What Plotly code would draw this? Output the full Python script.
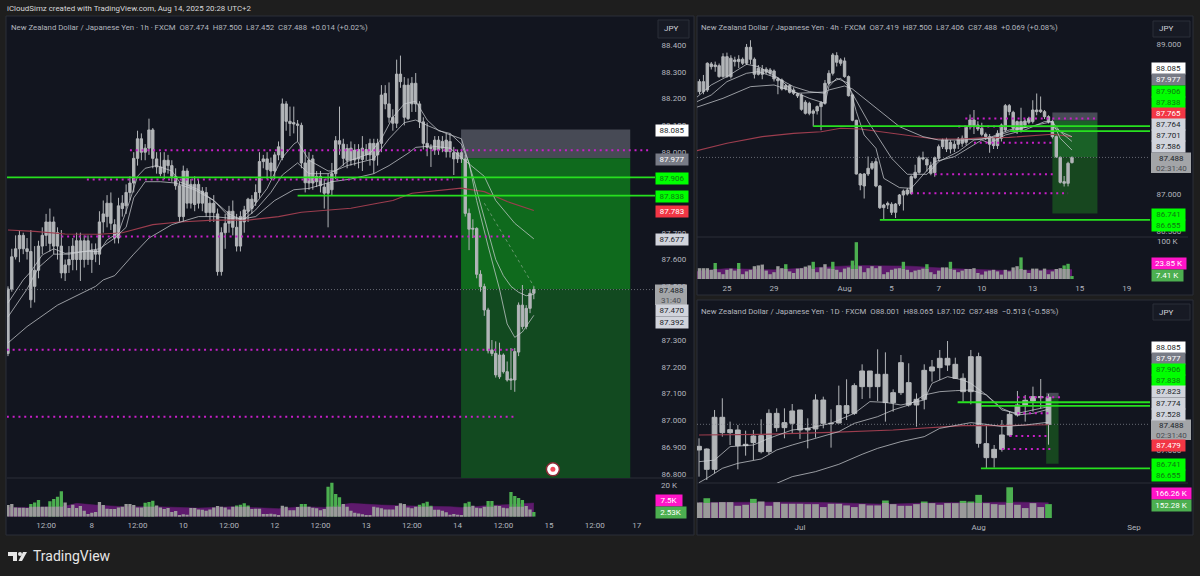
import plotly.graph_objects as go

# ---------- 1h pane ----------
h1_top = [87.49,87.61,87.64,87.69,87.69,87.64,87.63,87.56,87.65,87.69,
87.74,87.74,87.74,87.70,87.65,87.58,87.60,87.65,87.67,87.67,
87.67,87.67,87.635,87.635,87.74,87.77,87.81,87.81,87.73,87.80,
87.81,87.85,87.885,87.977,88.05,88.05,88.015,88.083,88.083,87.975,
87.945,87.97,87.97,87.95,87.91,87.875,87.93,87.93,87.88,87.88,
87.88,87.855,87.85,87.81,87.81,87.77,87.70,87.735,87.78,87.78,
87.72,87.76,87.785,87.825,87.825,87.85,87.965,87.975,87.975,87.96,
87.99,88.02,88.18,88.18,88.115,88.11,88.105,88.10,87.96,87.97,
87.975,87.91,87.91,87.87,87.884,87.92,88.043,88.043,88.03,88.014,
88.015,88.008,88.01,88.015,88.01,88.033,88.033,88.033,88.213,88.219,
88.18,88.13,88.291,88.291,88.25,88.25,88.257,88.257,88.18,88.113,
88.033,88.018,88.045,88.045,88.04,88.045,88.04,87.998,87.998,87.998,
87.975,87.772,87.716,87.716,87.545,87.499,87.412,87.263,87.25,87.244,
87.244,87.182,87.155,87.257,87.43,87.43,87.418,87.474,87.488]
h1_bot = [87.25,87.49,87.61,87.64,87.64,87.63,87.45,87.50,87.56,87.65,
87.69,87.66,87.65,87.65,87.55,87.55,87.58,87.60,87.60,87.60,
87.60,87.60,87.60,87.62,87.62,87.74,87.76,87.735,87.68,87.68,
87.79,87.80,87.85,87.885,87.977,88.00,88.00,88.015,87.977,87.945,
87.92,87.925,87.95,87.91,87.875,87.76,87.76,87.81,87.81,87.805,
87.81,87.81,87.775,87.775,87.775,87.555,87.555,87.70,87.735,87.72,
87.65,87.65,87.74,87.78,87.79,87.815,87.85,87.965,87.935,87.93,
87.93,87.99,87.98,88.115,88.107,88.105,88.10,87.96,87.886,87.885,
87.885,87.89,87.875,87.847,87.847,87.86,87.92,88.03,87.977,87.97,
87.971,87.971,87.975,87.973,87.99,87.99,87.97,87.99,88.033,88.18,
88.13,88.108,88.108,88.263,88.13,88.125,88.18,88.18,88.113,88.033,
88.018,88.014,88.008,88.008,88.015,88.002,88.002,87.975,87.975,87.975,
87.772,87.713,87.713,87.545,87.499,87.412,87.26,87.25,87.17,87.163,
87.182,87.151,87.15,87.151,87.255,87.35,87.35,87.418,87.474]
h1_high = [87.50,87.64,87.69,87.71,87.70,87.68,87.71,87.65,87.67,87.72,
87.77,87.79,87.76,87.72,87.71,87.60,87.65,87.68,87.70,87.70,
87.69,87.69,87.66,87.66,87.78,87.82,87.84,87.85,87.75,87.83,
87.84,87.88,87.91,88.00,88.08,88.07,88.03,88.125,88.09,88.00,
88.00,88.00,87.99,87.97,87.94,87.89,87.95,87.94,87.90,87.91,
87.90,87.87,87.87,87.83,87.84,87.79,87.72,87.77,87.80,87.82,
87.77,87.78,87.80,87.83,87.84,87.88,88.00,87.99,88.00,87.98,
88.00,88.04,88.20,88.19,88.17,88.17,88.12,88.11,88.01,88.00,
87.99,87.93,87.93,87.90,87.92,87.96,88.06,88.17,88.05,88.03,
88.04,88.03,88.03,88.06,88.03,88.05,88.05,88.05,88.25,88.25,
88.26,88.16,88.345,88.36,88.28,88.275,88.28,88.295,88.19,88.13,
88.11,88.03,88.06,88.06,88.06,88.07,88.07,88.02,88.01,88.01,
87.99,87.79,87.75,87.72,87.56,87.51,87.42,87.30,87.295,87.29,
87.25,87.22,87.27,87.27,87.44,87.505,87.43,87.49,87.50]
h1_low = [87.24,87.48,87.60,87.59,87.62,87.60,87.42,87.44,87.53,87.62,
87.65,87.63,87.62,87.60,87.53,87.52,87.55,87.56,87.56,87.52,
87.57,87.58,87.55,87.59,87.58,87.70,87.72,87.71,87.66,87.66,
87.76,87.77,87.82,87.85,87.95,87.97,87.97,87.99,87.94,87.92,
87.91,87.90,87.92,87.89,87.86,87.74,87.74,87.79,87.79,87.78,
87.79,87.78,87.76,87.74,87.74,87.54,87.54,87.64,87.70,87.69,
87.63,87.63,87.70,87.74,87.77,87.80,87.83,87.94,87.90,87.90,
87.90,87.97,87.97,88.08,88.06,88.07,88.04,87.94,87.85,87.86,
87.86,87.87,87.85,87.79,87.72,87.84,87.90,87.99,87.95,87.94,
87.95,87.95,87.94,87.93,87.97,87.95,87.92,87.95,88.00,88.16,
88.11,88.08,88.09,88.24,88.10,88.12,88.15,88.15,88.09,88.01,
87.985,87.945,87.99,87.99,88.00,87.98,87.98,87.915,87.96,87.96,
87.76,87.635,87.68,87.53,87.48,87.39,87.25,87.24,87.16,87.155,
87.175,87.145,87.114,87.107,87.24,87.34,87.34,87.40,87.452]

h1_ma1_x = [0,4,6,9,12,15,20,24,26,29,32,34,36,39,43,45,50,54,58,61,64,68,72,75,76,79,84,86,89,90,95,98,101,104,107,110,113,116,119,121,123,126,129,131,133,135,138]
h1_ma1 = [87.438,87.524,87.555,87.617,87.64,87.623,87.63,87.63,87.673,87.70,87.82,87.91,87.94,87.95,87.93,87.89,87.86,87.82,87.77,87.75,87.79,87.865,87.98,88.03,88.04,87.97,87.93,87.93,87.965,87.97,87.995,88.05,88.13,88.18,88.19,88.12,88.08,88.07,88.03,87.96,87.82,87.65,87.49,87.36,87.31,87.33,87.392]
h1_ma2_x = [0,5,8,12,16,24,28,31,33,36,40,44,49,54,58,62,65,69,72,76,79,84,89,92,96,100,104,107,110,115,119,122,124,126,128,130,132,134,136,138]
h1_ma2 = [87.386,87.49,87.57,87.62,87.62,87.64,87.68,87.72,87.83,87.89,87.89,87.885,87.86,87.82,87.76,87.75,87.785,87.85,87.915,87.96,87.92,87.92,87.95,87.96,87.975,88.05,88.11,88.12,88.10,88.07,88.05,87.91,87.81,87.70,87.60,87.54,87.50,87.478,87.465,87.47]
h1_ma3_x = [0,5,13,23,25,28,33,37,43,50,54,61,65,70,75,79,85,89,90,96,100,105,107,111,116,119,125,128,133,138]
h1_ma3 = [87.289,87.35,87.43,87.50,87.524,87.54,87.62,87.68,87.73,87.76,87.76,87.75,87.76,87.82,87.86,87.865,87.89,87.896,87.90,87.92,87.95,87.996,88.018,88.023,88.015,87.98,87.91,87.82,87.735,87.677]
h1_red_x = [0,7,15,24,30,38,45,54,63,71,77,85,90,97,101,106,112,119,125,131,138]
h1_red = [87.71,87.705,87.695,87.694,87.70,87.73,87.74,87.747,87.747,87.76,87.776,87.785,87.791,87.81,87.82,87.847,87.857,87.866,87.853,87.816,87.783]
h1_dash_x = [125,138]
h1_dash = [87.81,87.50]

h1_vol = [6.4,6.9,5.1,4.9,4.9,4.7,6.9,7.8,9.1,5.5,5.5,8.4,9.7,10.9,14,7.8,4.7,6.6,4.7,5.8,
3.3,1.5,2.2,2.6,8,6.4,4.4,4.2,4.2,5.1,5.5,6.9,6.9,6.4,5.1,5.1,7.7,8,8.7,6.2,
5.1,4.2,4.7,2.6,3.1,0.5,1.3,1.1,4.7,4.7,4,3.8,3.3,4,5.1,5.8,5.5,5.1,4,5.5,
6.2,6.6,7.3,6.2,4.2,4.4,4.4,1.5,1.5,1.6,1.3,0.9,6,5.5,3.6,3.6,5.3,6.9,6.9,5.5,
4.9,4.6,3.6,4.2,16.4,18.6,12.4,10.7,6.9,5.5,3.3,2.2,1.8,1.3,0.9,0.9,5.5,5.1,4.6,4,
4,4,5.8,7.3,6.9,5.1,4.6,5.5,6.6,7.3,8.2,6,3.8,3.8,3.3,2.4,1.1,1.5,1.1,0.9,
7.3,8.2,6,4.9,4.6,5.5,8.6,8.6,6,5.8,4.9,4.6,13.5,11.3,10.2,9.1,5.8,4,2.53]
h1_green_idx = [6,7,8,11,12,13,14,36,37,38,60,61,62,63,77,78,84,85,86,87,108,109,110,111,120,121,126,127,132,133,134,135,138]
h1_green_floor = 5.5
h1_volma_x = [0,7,15,18,23,30,39,44,50,59,66,71,77,83,90,98,107,116,120,125,129,135,138]
h1_volma = [5.1,5.1,5.8,7.3,6.4,5.5,5.5,5.1,4.7,5.5,4.9,4.4,5.5,5.1,7.3,6.4,5.8,5.5,4.9,6.0,6.4,6.9,7.5]

h1_tickvals = [10,22,34,46,58,70,82,94,106,118,130,142,154,165]
h1_ticktext = ["12:00","8","12:00","10","12:00","12","12:00","13","12:00","14","12:00","15","12:00","17"]
h1_price_ticks = [88.4,88.3,88.2,88.1,88.0,87.7,87.6,87.5,87.3,87.2,87.1,87.0,86.9,86.8]
h1_green_lines = [(-0.3,169.8,87.906),(76,169.8,87.838)]
h1_dots = [(32,168,88.007),(20.7,116.8,87.898),(14,132.3,87.686),(-0.3,133,87.264),(-0.3,133,87.014)]
h1_box_x = (118.9,163.3)

# ---------- 4h pane ----------
h4_top = [88.507,88.498,88.498,88.743,88.734,88.72,88.711,88.831,88.831,88.81,
88.787,88.796,88.796,88.956,88.956,88.796,88.676,88.663,88.663,88.654,
88.64,88.534,88.52,88.445,88.445,88.387,88.334,88.32,88.223,88.209,
88.107,88.165,88.218,88.476,88.609,88.854,88.845,88.787,88.774,88.565,
88.32,87.983,87.267,87.267,87.343,87.41,87.431,87.107,86.854,86.876,
86.863,86.867,86.987,87.04,87.054,87.232,87.289,87.485,87.485,87.463,
87.378,87.485,87.631,87.72,87.72,87.689,87.663,87.734,87.743,87.889,
87.987,87.987,87.92,87.876,87.796,87.765,87.743,87.809,87.92,88.178,
88.178,88.089,87.965,87.965,87.974,88.009,88.12,88.12,88.12,88.098,
88.031,87.965,87.765,87.489,87.165,87.409,87.488]
h4_bot = [88.356,88.365,88.365,88.387,88.698,88.698,88.565,88.565,88.565,88.565,
88.765,88.765,88.743,88.743,88.796,88.596,88.596,88.596,88.623,88.609,
88.534,88.51,88.40,88.40,88.356,88.343,88.307,88.129,88.076,88.076,
88.076,88.107,88.165,88.209,88.476,88.609,88.756,88.743,88.565,88.31,
87.983,87.267,87.12,87.107,87.267,87.343,87.107,86.818,86.818,86.854,
86.756,86.756,86.867,86.987,87.0,87.009,87.218,87.289,87.467,87.387,
87.276,87.285,87.476,87.631,87.60,87.60,87.609,87.663,87.676,87.689,
87.898,87.898,87.867,87.796,87.765,87.663,87.645,87.645,87.743,87.854,
88.098,87.876,87.854,87.854,87.92,87.956,87.965,88.098,88.098,88.031,
87.965,87.765,87.498,87.156,87.143,87.143,87.419]
h4_high = [88.56,88.53,88.587,88.755,88.76,88.765,88.74,88.876,88.885,88.85,
88.83,88.85,88.82,89.0,89.05,88.82,88.72,88.72,88.69,88.68,
88.66,88.56,88.54,88.47,88.46,88.42,88.35,88.34,88.25,88.23,
88.13,88.18,88.24,88.52,88.65,88.88,88.89,88.81,88.82,88.58,
88.33,87.99,87.28,87.28,87.50,87.44,87.48,87.12,86.87,86.90,
86.89,86.88,87.0,87.06,87.08,87.25,87.39,87.51,87.565,87.49,
87.43,87.50,87.66,87.74,87.75,87.72,87.71,87.76,87.78,87.90,
88.06,88.12,87.97,87.95,87.82,87.80,87.76,87.85,87.94,88.20,
88.20,88.11,87.98,88.15,88.0,88.03,88.25,88.34,88.30,88.12,
88.05,87.99,87.78,87.50,87.24,87.43,87.50]
h4_low = [88.30,88.33,88.33,88.36,88.66,88.63,88.55,88.55,88.55,88.54,
88.70,88.68,88.72,88.72,88.73,88.54,88.58,88.53,88.60,88.58,
88.50,88.33,88.38,88.38,88.34,88.32,88.28,88.11,88.06,88.05,
87.90,88.06,87.85,88.19,88.45,88.58,88.70,88.71,88.55,88.30,
87.97,87.26,87.05,86.94,87.24,87.32,87.09,86.80,86.667,86.80,
86.72,86.68,86.84,86.78,86.98,86.99,87.20,87.27,87.45,87.30,
87.25,87.23,87.44,87.60,87.56,87.54,87.56,87.60,87.63,87.65,
87.86,87.80,87.84,87.77,87.72,87.55,87.60,87.60,87.70,87.83,
88.05,87.85,87.80,87.82,87.88,87.93,87.94,88.05,88.08,88.0,
87.94,87.74,87.48,87.14,87.10,87.102,87.406]

h4_ma1_x = [0,4,8,13,16,21,25,29,33,34,36,39,41,43,46,48,52,55,58,61,66,70,73,75,79,84,89,91,93,96]
h4_ma1 = [88.276,88.454,88.565,88.729,88.698,88.551,88.365,88.276,88.209,88.431,88.543,88.476,88.098,87.787,87.609,87.209,87.085,87.076,87.254,87.431,87.498,87.631,87.72,87.676,87.787,87.854,87.965,87.965,87.743,87.586]
h4_ma2_x = [0,4,8,13,16,21,25,29,33,34,37,39,44,50,54,59,62,67,71,75,80,85,91,93,96]
h4_ma2 = [88.223,88.32,88.498,88.609,88.632,88.543,88.431,88.365,88.343,88.476,88.543,88.432,87.965,87.476,87.263,87.263,87.431,87.565,87.72,87.742,87.831,87.898,87.965,87.83,87.701]
h4_ma3_x = [0,7,14,20,26,33,34,38,40,46,52,58,62,68,73,75,80,85,91,94,96]
h4_ma3 = [88.152,88.276,88.431,88.454,88.343,88.36,88.387,88.44,88.40,88.143,87.898,87.765,87.72,87.72,87.734,87.752,87.854,87.898,87.898,87.809,87.764]
h4_red_x = [0,8,17,25,32,37,42,47,54,61,68,74,80,86,91,96]
h4_red = [87.574,87.676,87.765,87.809,87.831,87.876,87.867,87.831,87.778,87.734,87.734,87.752,87.755,87.78,87.796,87.765]

h4_vol = [19,27,27,27,23,40,17,12,23,26,21,40,12,19,23,32,34,36,21,12,
17,32,27,37,19,15,26,27,31,34,43,17,29,37,26,43,23,17,26,29,
46,92,32,17,27,32,27,32,12,17,23,26,27,43,23,17,21,23,26,37,
17,12,21,29,29,43,23,17,21,25,25,27,15,11,19,21,23,19,11,23,
19,29,32,54,23,15,26,26,21,26,12,19,25,27,34,38,7.41]
h4_green_idx = [5,11,23,30,35,40,41,53,59,65,83,94,95,96]
h4_green_floor = 25
h4_volma_x = [0,8,20,30,41,55,65,80,90,96]
h4_volma = [19,26,23,29,34,32,26,21,23,23.85]

h4_tickvals = [8,20,38,50,62,73,86,98,110]
h4_ticktext = ["25","29","Aug","5","7","10","13","15","19"]
h4_price_ticks = [89.0,87.0,86.5]
h4_green_lines = [(30,116,87.906),(80.2,116,87.838),(47,116,86.655)]
h4_dots = [(68.8,102.3,88.005),(67,80,87.90),(71,91,87.683),(61,91.2,87.263),(55,95,87.01)]
h4_box_x = (91,102.5)

# ---------- 1D pane ----------
d1_top = [87.071,87.02,87.621,87.621,87.387,87.381,87.109,87.267,87.273,87.696,
87.696,87.52,87.741,87.76,87.412,87.949,87.949,87.507,87.842,87.842,
88.221,88.499,88.499,88.436,88.436,88.088,88.657,88.278,87.962,88.511,
88.575,88.739,88.739,88.625,88.36,88.77,88.77,87.122,87.014,87.286,
87.678,87.854,87.943,88.012,88.012,88.001]
d1_bot = [87.002,86.635,86.635,87.33,87.33,87.084,87.084,87.141,86.97,86.97,
87.425,87.425,87.507,87.381,87.381,87.4,87.507,87.501,87.513,87.696,
87.696,88.202,88.202,88.202,87.899,87.899,88.088,87.854,87.854,87.962,
88.499,88.562,88.612,88.36,88.107,88.107,87.128,86.856,86.856,87.014,
87.286,87.665,87.854,87.93,87.993,87.488]
d1_high = [87.223,87.033,87.76,87.981,87.539,87.475,87.368,87.381,87.583,87.772,
87.791,87.791,87.873,87.76,87.602,88.057,88.012,87.772,88.221,88.341,
88.265,88.625,88.499,88.909,88.852,88.151,88.802,88.644,88.075,88.625,
88.707,88.897,89.067,88.751,88.454,88.897,88.846,87.488,87.096,87.57,
87.728,88.12,88.044,88.202,88.347,88.065]
d1_low = [86.496,86.433,86.559,87.254,87.096,86.635,86.894,86.812,86.938,86.92,
87.349,87.223,87.317,87.21,87.033,87.235,87.412,87.046,87.507,87.57,
87.665,87.968,87.981,87.93,87.539,87.728,88.044,87.823,87.444,87.772,
88.297,88.328,88.499,88.347,87.918,87.867,87.046,86.654,86.667,86.97,
87.254,87.633,87.539,87.728,87.791,87.102]

d1_ma1_x = [0,2,4,7,9,12,14,17,20,22,24,26,29,30,32,34,35,37,39,41,45]
d1_ma1 = [86.78,86.81,87.065,87.096,87.223,87.381,87.412,87.507,87.696,87.918,87.905,87.854,87.949,88.265,88.391,88.328,88.265,88.044,87.76,87.696,87.823]
d1_ma2_x = [0,1,3,5,8,10,12,15,18,20,23,25,27,29,31,33,35,37,39,41,43,45]
d1_ma2 = [86.383,86.465,86.654,86.749,86.831,87.002,87.096,87.223,87.349,87.507,87.633,87.76,87.854,88.044,88.107,88.126,88.139,88.044,87.791,87.665,87.696,87.774]
d1_ma3_x = [10,12,15,18,21,23,26,29,31,35,37,39,42,45]
d1_ma3 = [86.37,86.496,86.591,86.73,86.92,87.033,87.16,87.254,87.412,87.52,87.488,87.444,87.475,87.528]
d1_red_x = [0,8,17,25,34,38,45]
d1_red = [87.285,87.298,87.336,87.381,87.463,87.463,87.479]

d1_vol = [170,217,170,174,174,134,145,210,181,134,174,156,156,156,152,152,120,156,156,138,
120,152,138,138,192,152,134,134,152,181,163,145,163,163,188,181,254,163,152,145,
337,145,109,163,120,152.28]
d1_green_idx = [1,7,24,29,34,35,36,40,45]
d1_green_floor = 165
d1_volma_x = [0,5,10,16,24,30,36,41,45]
d1_volma = [170,174,174,170,152,166,174,174,166.26]

d1_tickvals = [13,36,56]
d1_ticktext = ["Jul","Aug","Sep"]
d1_price_ticks = [87.0]
d1_green_lines = [(33.3,58.1,87.906),(36.3,58.1,87.838),(36.3,58.1,86.655)]
d1_dots = [(41,46.7,88.0),(41,45,87.70),(40,45,87.267),(39,45.3,87.02)]
d1_box_x = (44.7,46.3)

# ---------- shared levels and text ----------
stop_level = 88.085
entry_level = 87.977
last_close = 87.488
h4_target = 86.741
d1_target = 86.741
marker_bar, marker_price = 143, 86.818
stem = "New Zealand Dollar / Japanese Yen"
top_text = "iCloudSimz created with TradingView.com, Aug 14, 2025 20:28 UTC+2"
h1_title = stem + " · 1h · FXCM  O87.474  H87.500  L87.452  C87.488  +0.014 (+0.02%)"
h4_title = stem + " · 4h · FXCM  O87.419  H87.500  L87.406  C87.488  +0.069 (+0.08%)"
d1_title = stem + " · 1D · FXCM  O88.001  H88.065  L87.102  C87.488  −0.513 (−0.58%)"

WHITE, LIGHT, MID, LIME, RED = "#ffffff", "#d1d4dc", "#787b86", "#00ff00", "#f23645"
GREY = "#b2b5b8"
h1_labels = [("88.085",130,WHITE,31),("87.977",159,MID,31),("87.906",178,LIME,31),("87.838",196,LIME,31),
             ("87.783",211,RED,31),("87.677",239,LIGHT,31),("87.470",310.5,LIGHT,31),("87.392",322,LIGHT,31)]
h4_labels = [("88.085",69,WHITE,32),("87.977",80,MID,32),("87.906",91,LIME,32),("87.838",102,LIME,32),
             ("87.765",113,RED,32),("87.764",124,LIGHT,32),("87.701",135.5,LIGHT,32),("87.586",146.5,LIGHT,32),
             ("86.741",214,LIME,32),("86.655",225,LIME,32)]
d1_labels = [("88.085",347,WHITE,32),("87.977",358,MID,32),("87.906",369,LIME,32),("87.838",380,LIME,32),
             ("87.823",391.5,LIGHT,32),("87.774",403,LIGHT,32),("87.528",414,LIGHT,32),("87.479",445,RED,32),
             ("86.741",464,LIME,32),("86.655",475,LIME,32)]

W, H = 1200, 576
fx = lambda p: p / W
fy = lambda p: 1 - p / H

fig = go.Figure()
shapes, annots = [], []

def rect(x0, y0, x1, y1, fill, line="rgba(0,0,0,0)", lw=0):
    shapes.append(dict(type="rect", xref="paper", yref="paper", x0=fx(x0), x1=fx(x1), y0=fy(y0), y1=fy(y1),
                       fillcolor=fill, line=dict(color=line, width=lw), layer="below"))

def text(x, y, s, size=8, color="#b2b5be", anchor="left", **kw):
    annots.append(dict(x=fx(x), y=fy(y), xref="paper", yref="paper", text=s, showarrow=False,
                       xanchor=anchor, yanchor="middle", font=dict(family="Roboto", size=size, color=color), **kw))

def tag(x, y, s, bg, w, fg=None, h=10, size=8):
    if fg is None:
        fg = "#0f7a12" if bg == LIME else ("#ffffff" if bg in (MID, RED, "#ff14c8", "#4caf50") else "#1c1f2a")
    text(x, y, s, size=size, color=fg, bgcolor=bg, width=w, height=h, borderpad=0.5, align="center")

PANEL = "#12151f"
EDGE = "#2a2e39"
rect(6, 16, 694, 535, PANEL, EDGE, 1)
rect(697, 16, 1193, 295, PANEL, EDGE, 1)
rect(697, 300, 1193, 535, PANEL, EDGE, 1)

def pane(n_price_x, n_price_y, n_vol_x, n_vol_y, n_over, px0, px1, py0, py1, vy1, x_range, y_range, v_top,
         top, bot, high, low, mas, red, vol, green_idx, floor, vm_x, vm, tickvals, ticktext, price_ticks,
         green_lines, dots, box_x, target, box_cols, labels):
    xp, yp, xv, yv, yo = ("x%s" % n_price_x, "y%s" % n_price_y, "x%s" % n_vol_x, "y%s" % n_vol_y, "y%s" % n_over)
    idx = list(range(len(top)))
    for a, b, col in [(stop_level, entry_level, box_cols[0]), (entry_level, last_close, box_cols[1]), (last_close, target, box_cols[2])]:
        shapes.append(dict(type="rect", xref=xp, yref=yp, x0=box_x[0], x1=box_x[1], y0=a, y1=b,
                           fillcolor=col, line=dict(width=0), layer="below"))
    fig.add_trace(go.Candlestick(x=idx, open=bot, close=top, high=high, low=low, xaxis=xp, yaxis=yp,
                                 increasing=dict(line=dict(color=GREY, width=1), fillcolor=GREY),
                                 decreasing=dict(line=dict(color=GREY, width=1), fillcolor=GREY),
                                 whiskerwidth=0, hoverinfo="skip", showlegend=False))
    fig.add_trace(go.Scatter(x=list(x_range), y=[last_close, last_close], xaxis=xp, yaxis=yp, mode="lines",
                             line=dict(color="#8a8d96", width=0.7, dash="1px,2px"), hoverinfo="skip", showlegend=False))
    fig.add_trace(go.Scatter(x=red[0], y=red[1], xaxis=xp, yaxis=yp, mode="lines",
                             line=dict(color="#9c3d4e", width=1.1), hoverinfo="skip", showlegend=False))
    for mx, my in mas:
        fig.add_trace(go.Scatter(x=mx, y=my, xaxis=xp, yaxis=yp, mode="lines", line=dict(color="rgba(205,207,212,0.8)", width=0.9),
                                 hoverinfo="skip", showlegend=False))
    for a, b, v in dots:
        fig.add_trace(go.Scatter(x=[a, b], y=[v, v], xaxis=xp, yaxis=yp, mode="lines",
                                 line=dict(color="#c81fc8", width=2, dash="2px,3.8px"), hoverinfo="skip", showlegend=False))
    for a, b, v in green_lines:
        fig.add_trace(go.Scatter(x=[a, b], y=[v, v], xaxis=xp, yaxis=yp, mode="lines",
                                 line=dict(color="#27e01f", width=1.8), hoverinfo="skip", showlegend=False))
    # volume
    fig.add_trace(go.Scatter(x=vm_x, y=vm, xaxis=xv, yaxis=yv, mode="lines", fill="tozeroy", fillcolor="#5e1a6d",
                             line=dict(color="#5e1a6d", width=0.5), hoverinfo="skip", showlegend=False))
    last = len(vol) - 1
    green_vals = [vol[i] if i in green_idx else 0 for i in idx]
    grey_vals = [0 if i == last else (min(vol[i], floor) if i in green_idx else vol[i]) for i in idx]
    fig.add_trace(go.Bar(x=idx, y=green_vals, xaxis=xv, yaxis=yo, marker=dict(color="#4caf50", line=dict(width=0)),
                         hoverinfo="skip", showlegend=False))
    fig.add_trace(go.Bar(x=idx, y=grey_vals, xaxis=xv, yaxis=yo, marker=dict(color="#9a9a9a", line=dict(width=0)),
                         hoverinfo="skip", showlegend=False))
    dx = [fx(px0), fx(px1)]
    name = lambda s: s.replace("x", "xaxis").replace("y", "yaxis")
    axis_font = dict(family="Roboto", size=8, color="#b2b5be")
    fig.update_layout({
        name(xp): dict(domain=dx, range=list(x_range), anchor=yp, showgrid=False, zeroline=False, showticklabels=False,
                       rangeslider=dict(visible=False), showline=False, ticks=""),
        name(yp): dict(domain=[fy(py1), fy(py0)], range=list(y_range), anchor=xp, side="right", showgrid=False, zeroline=False,
                       tickmode="array", tickvals=price_ticks, ticktext=["%.3f" % t for t in price_ticks], tickfont=axis_font,
                       ticks="outside", ticklen=4, tickcolor="rgba(0,0,0,0)", showline=False),
        name(xv): dict(domain=dx, range=list(x_range), anchor=yv, showgrid=False, zeroline=False, tickmode="array",
                       tickvals=tickvals, ticktext=ticktext, tickfont=axis_font, ticks="outside", ticklen=1,
                       tickcolor="rgba(0,0,0,0)", showline=False),
        name(yv): dict(domain=[fy(vy1), fy(py1)], range=[0, v_top], anchor=xv, visible=False),
        name(yo): dict(domain=[fy(vy1), fy(py1)], range=[0, v_top], anchor=xv, overlaying=name(yv).replace("yaxis", "y"), visible=False),
    })
    shapes.append(dict(type="line", xref="paper", yref="paper", x0=fx(px0), x1=fx(px1 + 38), y0=fy(py1), y1=fy(py1),
                       line=dict(color=EDGE, width=1), layer="below"))
    for s, y, bg, w in labels:
        tag(px1 + (0 if w == 31 else 1), y, s, bg, w)

pane("", "", "2", "2", "3", 7, 655, 16, 478, 516.7, (-0.26, 169.8), (86.7857, 88.5076), 21.2,
     h1_top, h1_bot, h1_high, h1_low, [(h1_ma1_x, h1_ma1), (h1_ma2_x, h1_ma2), (h1_ma3_x, h1_ma3)], (h1_red_x, h1_red),
     h1_vol, h1_green_idx, h1_green_floor, h1_volma_x, h1_volma, h1_tickvals, h1_ticktext, h1_price_ticks,
     h1_green_lines, h1_dots, h1_box_x, 86.7857, ("#474a55", "#0f6a1d", "#124a20"), h1_labels)
pane("3", "4", "4", "5", "6", 697, 1150, 16, 237, 279, (0.36, 115.9), (86.427, 89.373), 105,
     h4_top, h4_bot, h4_high, h4_low, [(h4_ma1_x, h4_ma1), (h4_ma2_x, h4_ma2), (h4_ma3_x, h4_ma3)], (h4_red_x, h4_red),
     h4_vol, h4_green_idx, h4_green_floor, h4_volma_x, h4_volma, h4_tickvals, h4_ticktext, h4_price_ticks,
     h4_green_lines, h4_dots, h4_box_x, h4_target, ("#474a55", "#1a6127", "#17471f"), h4_labels)
pane("5", "7", "6", "8", "9", 697, 1150, 300, 483, 518, (-0.26, 58.07), (86.376, 89.844), 384,
     d1_top, d1_bot, d1_high, d1_low, [(d1_ma1_x, d1_ma1), (d1_ma2_x, d1_ma2), (d1_ma3_x, d1_ma3)], (d1_red_x, d1_red),
     d1_vol, d1_green_idx, d1_green_floor, d1_volma_x, d1_volma, d1_tickvals, d1_ticktext, d1_price_ticks,
     d1_green_lines, d1_dots, d1_box_x, d1_target, ("#474a55", "#17471f", "#17471f"), d1_labels)

# dashed guide and source marker on the 1h pane
fig.add_trace(go.Scatter(x=h1_dash_x, y=h1_dash, xaxis="x", yaxis="y", mode="lines",
                         line=dict(color="rgba(190,195,190,0.55)", width=0.9, dash="3px,3px"), hoverinfo="skip", showlegend=False))
fig.add_trace(go.Scatter(x=[marker_bar], y=[marker_price], xaxis="x", yaxis="y", mode="markers",
                         marker=dict(size=13, color="#ffffff", line=dict(color="#8b2a35", width=1.5)), hoverinfo="skip", showlegend=False))
fig.add_trace(go.Scatter(x=[marker_bar], y=[marker_price], xaxis="x", yaxis="y", mode="markers",
                         marker=dict(size=5, color="#f2495a"), hoverinfo="skip", showlegend=False))

# last price tags with countdown
def price_tag(x, y, w, clock):
    rect(x, y - 5.5, x + w, y + 15, "#a3a5a8")
    text(x + w / 2, y, "87.488", color="#1c1f2a", anchor="center")
    text(x + w / 2, y + 10, clock, color="#4a4c52", anchor="center")
price_tag(655, 290, 32, "31:40")
price_tag(1151, 158, 40, "02:31:40")
price_tag(1151, 425, 40, "02:31:40")

# volume value tags and scale text
text(659, 485.5, "20 K")
tag(655, 500.5, "7.5K", "#ff14c8", 25)
tag(655, 512, "2.53K", "#4caf50", 29)
text(1155, 242, "100 K")
tag(1151, 263, "23.85 K", "#ff14c8", 33)
tag(1151, 275, "7.41 K", "#4caf50", 30)
tag(1151, 493, "166.26 K", "#ff14c8", 38)
tag(1151, 505, "152.28 K", "#4caf50", 38)

# titles
text(5, 8.5, top_text, size=7.9, color="#d8d9dc")
text(9, 27, h1_title, size=7.8)
text(699, 27, h4_title, size=7.8)
text(699, 311, d1_title, size=7.8)

# currency buttons
for x0, y0, x1, y1 in [(658, 20, 689, 38), (1153, 21, 1190, 37), (1153, 304, 1190, 320)]:
    rect(x0, y0, x1, y1, "#171a24", "#2a2e39", 1)
    text(x0 + 4, (y0 + y1) / 2, "JPY", size=8, color="#d1d4dc")

# footer brand
def poly(pts, fill="#e6e6e6"):
    d = "M " + " L ".join("%.5f %.5f" % (fx(a), fy(b)) for a, b in pts) + " Z"
    shapes.append(dict(type="path", xref="paper", yref="paper", path=d, fillcolor=fill, line=dict(width=0), layer="above"))
poly([(8, 552), (17, 552), (17, 561), (13, 561), (13, 556), (8, 556)])
poly([(23, 552), (27, 552), (22, 561), (18.5, 561)])
shapes.append(dict(type="circle", xref="paper", yref="paper", x0=fx(18), x1=fx(22), y0=fy(556), y1=fy(552),
                   fillcolor="#e6e6e6", line=dict(width=0), layer="above"))
text(31, 556, "TradingView", size=14, color="#e6e6e6")

fig.update_layout(width=W, height=H, autosize=False, margin=dict(l=0, r=0, t=0, b=0, pad=0),
                  paper_bgcolor="#1e1e1e", plot_bgcolor="rgba(0,0,0,0)", barmode="overlay", bargap=0.14, boxgap=0.12,
                  showlegend=False, shapes=shapes, annotations=annots)

fig.write_html("out.html", config={"displayModeBar": False}, post_script="document.body.style.margin='0';")
